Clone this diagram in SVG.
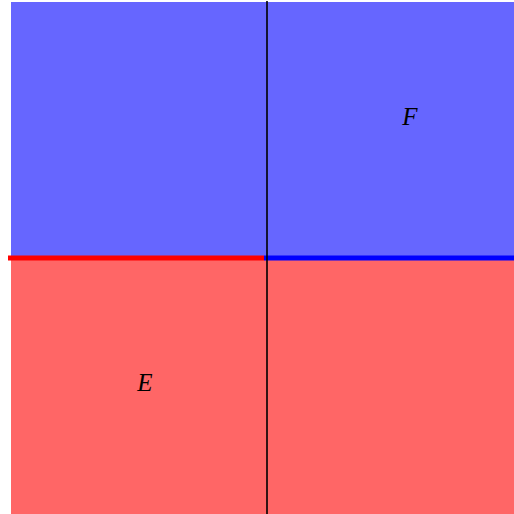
<svg xmlns="http://www.w3.org/2000/svg" width="514" height="514" viewBox="0 0 514 514">
<style>
.lbl{font-family:"Liberation Serif","DejaVu Serif",serif;font-style:italic;font-size:25px;fill:#000;text-anchor:middle}
</style>
<rect width="514" height="514" fill="#fff"/>
<g id="regionF"><rect x="11" y="2" width="503" height="256" fill="#6666ff"/><text class="lbl" x="410" y="125">F</text></g>
<g id="regionE"><rect x="11" y="258" width="503" height="256" fill="#ff6666"/><text class="lbl" x="145" y="391">E</text></g>
<g id="connectors">
<line x1="8" y1="258" x2="264" y2="258" stroke="#ff0000" stroke-width="5"/>
<line x1="264" y1="258" x2="514" y2="258" stroke="#0000ff" stroke-width="5"/>
<line x1="267" y1="1" x2="267" y2="514" stroke="#000" stroke-opacity="0.8" stroke-width="2"/>
</g>
</svg>
